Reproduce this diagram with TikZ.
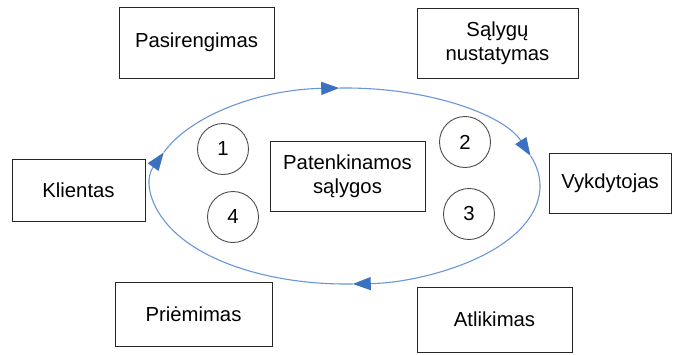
\documentclass[tikz,border=0pt]{standalone}
\usepackage{fontspec}
\setmainfont{Liberation Sans}
\usetikzlibrary{arrows.meta}
\definecolor{loopline}{RGB}{105,150,212}
\definecolor{loophead}{RGB}{60,112,192}
\begin{document}
\begin{tikzpicture}[x=1pt,y=-1pt,
  lbl/.style={font=\fontsize{20.3}{24}\selectfont, align=center, text=black},
  box/.style={draw=black!85, line width=1pt, fill=white, rectangle, inner sep=0pt, lbl},
  num/.style={draw=black!70, line width=0.9pt, fill=white, circle, minimum size=51pt, inner sep=0pt, lbl},
  loop/.style={draw=loopline, line width=1.1pt,
    -{Triangle[length=18pt,width=13pt,color=loophead]}}
]
\useasboundingbox (0,0) rectangle (673,354);

% cycle around the centre
\coordinate (c) at (346,186);
\coordinate (t1) at ([shift={(160:194pt and 98pt)}]c);
\coordinate (t2) at ([shift={(92:194pt and 98pt)}]c);
\coordinate (t3) at ([shift={(18:194pt and 98pt)}]c);
\coordinate (t4) at ([shift={(-88:194pt and 98pt)}]c);
\draw[loop] (t1) arc[start angle=160, end angle=92, x radius=194pt, y radius=98pt];
\draw[loop] (t2) arc[start angle=92, end angle=18, x radius=194pt, y radius=98pt];
\draw[loop] (t3) arc[start angle=18, end angle=-88, x radius=194pt, y radius=98pt];
\draw[loop] (t4) arc[start angle=-88, end angle=-200, x radius=194pt, y radius=98pt];

% boxes
\node[box, minimum width=155pt, minimum height=71pt] (prep) at (196.5,42.5) {Pasirengimas};
\node[box, minimum width=161pt, minimum height=70pt] (cond) at (497.5,43) {Sąlygų\\nustatymas};
\node[box, minimum width=133pt, minimum height=62pt] (client) at (78.5,190) {Klientas};
\node[box, minimum width=155pt, minimum height=70pt] (sat) at (347.5,176) {Patenkinamos\\sąlygos};
\node[box, minimum width=122pt, minimum height=60pt] (exec) at (610,183) {Vykdytojas};
\node[box, minimum width=157pt, minimum height=64pt] (accept) at (193.5,314) {Priėmimas};
\node[box, minimum width=155pt, minimum height=65pt] (done) at (494.5,319.5) {Atlikimas};

% step numbers
\node[num] (n1) at (223,149) {1};
\node[num] (n2) at (465,142) {2};
\node[num] (n3) at (469,214) {3};
\node[num] (n4) at (233,217) {4};
\end{tikzpicture}
\end{document}
